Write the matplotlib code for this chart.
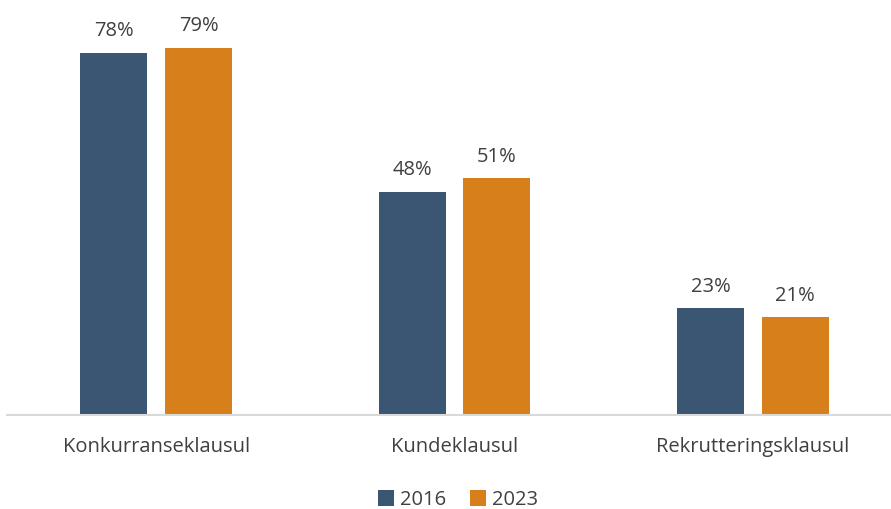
import matplotlib.pyplot as plt
import numpy as np

plt.rcParams['font.family'] = ['Open Sans', 'DejaVu Sans']

kategorier = ["Konkurranseklausul", "Kundeklausul", "Rekrutteringsklausul"]
aar = ["2016", "2023"]
v2016 = [78, 48, 23]
v2023 = [79, 51, 21]
farger = ["#3A5673", "#D77F1A"]

fig = plt.figure(figsize=(8.91, 5.09), dpi=100)
ax = fig.add_axes([7 / 891, (509 - 415) / 509, 895 / 891, 404 / 509])

x = np.arange(len(kategorier))
b = 0.224
off = 0.142
for verdier, d, farge, navn in [(v2016, -off, farger[0], aar[0]), (v2023, off, farger[1], aar[1])]:
    bars = ax.bar(x + d, verdier, width=b, color=farge, label=navn)
    for r, v in zip(bars, verdier):
        ax.annotate(f"{v}%", (r.get_x() + r.get_width() / 2, v), xytext=(0, 12),
                    textcoords="offset points", ha="center", va="baseline",
                    fontsize=14.5, color="#404040")

ax.set_xlim(-0.5, 2.5)
ax.set_ylim(0, 87)
ax.set_yticks([])
ax.set_xticks(x)
ax.set_xticklabels(kategorier, fontsize=14.5, color="#404040")
ax.tick_params(axis="x", length=0, pad=16)
for s in ["top", "right", "left"]:
    ax.spines[s].set_visible(False)
ax.spines["bottom"].set_color("#D9D9D9")
ax.spines["bottom"].set_linewidth(1.5)

fig.legend(loc="center", bbox_to_anchor=(458 / 891, 1 - 500 / 509), ncol=2, frameon=False,
           fontsize=14.5, handlelength=0.8, handleheight=0.8, handletextpad=0.3, columnspacing=1.2,
           labelcolor="#404040")

fig.savefig("out.png", dpi=100)
